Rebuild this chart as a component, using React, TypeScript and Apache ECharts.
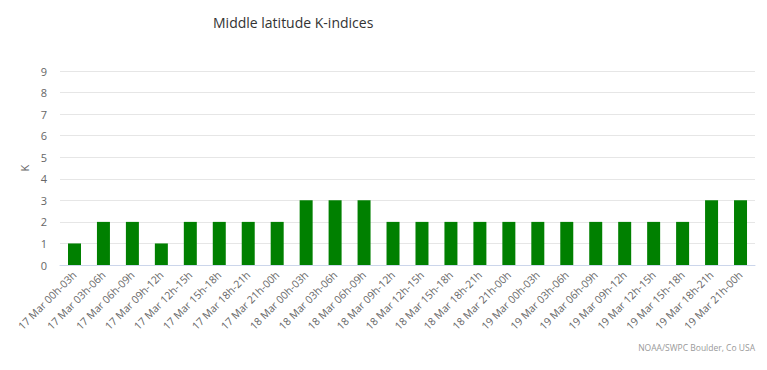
import React, { useEffect, useRef } from "react";
import * as echarts from "echarts";

const days = ["17 Mar", "18 Mar", "19 Mar"];
const periods = ["00h-03h", "03h-06h", "06h-09h", "09h-12h", "12h-15h", "15h-18h", "18h-21h", "21h-00h"];
const categories: string[] = [];
days.forEach((d) => periods.forEach((p) => categories.push(`${d} ${p}`)));
const kValues = [1, 2, 2, 1, 2, 2, 2, 2, 3, 3, 3, 2, 2, 2, 2, 2, 2, 2, 2, 2, 2, 2, 3, 3];
const yTicks = [0, 9, 1];

export default function App() {
  const ref = useRef<HTMLDivElement>(null);
  useEffect(() => {
    if (!ref.current) return;
    const chart = echarts.init(ref.current, null, { renderer: "svg" });
    const font = "'Open Sans', 'DejaVu Sans', sans-serif";
    chart.setOption({
      animation: false,
      textStyle: { fontFamily: font },
      title: {
        text: "Middle latitude K-indices",
        left: 208,
        top: 10,
        textStyle: { fontSize: 14, fontWeight: "normal", color: "#333333", fontFamily: font },
      },
      graphic: [
        {
          type: "text",
          right: 12,
          top: 343,
          style: { text: "NOAA/SWPC Boulder, Co USA", fontSize: 8.5, fill: "#999999", fontFamily: font },
        },
      ],
      grid: { left: 60, right: 12, top: 71, bottom: 105, containLabel: false },
      xAxis: {
        type: "category",
        data: categories,
        axisTick: { show: false },
        axisLine: { lineStyle: { color: "#ccd6eb" } },
        axisLabel: { rotate: 45, interval: 0, fontSize: 10.5, color: "#666666", margin: 8 },
      },
      yAxis: {
        type: "value",
        min: yTicks[0],
        max: yTicks[1],
        interval: yTicks[2],
        name: "K",
        nameLocation: "middle",
        nameGap: 27,
        nameTextStyle: { color: "#666666", fontSize: 11 },
        axisLabel: { color: "#666666", fontSize: 11, margin: 13 },
        splitLine: { lineStyle: { color: "#e6e6e6" } },
        axisLine: { show: false },
        axisTick: { show: false },
      },
      series: [
        {
          type: "bar",
          data: kValues,
          barWidth: 13,
          itemStyle: { color: "#008000" },
        },
      ],
    });
    return () => chart.dispose();
  }, []);
  return <div ref={ref} style={{ width: 767, height: 370, position: "absolute", left: 0, top: 0 }} />;
}
